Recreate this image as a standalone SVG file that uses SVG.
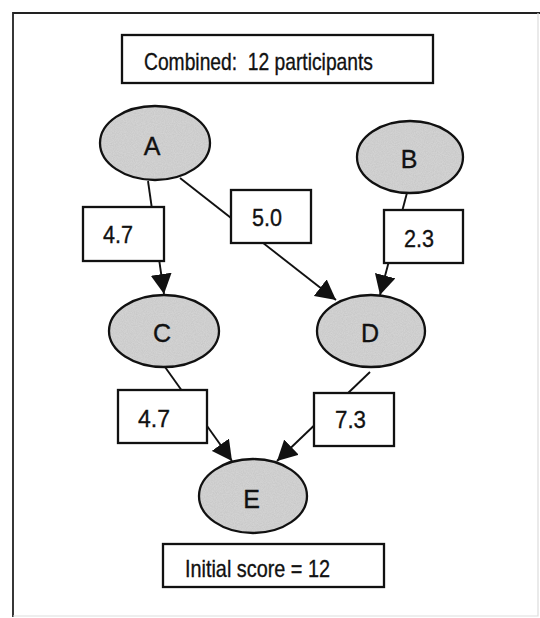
<svg xmlns="http://www.w3.org/2000/svg" width="540" height="618" viewBox="0 0 540 618">
  <style>
    .frame { fill: none; stroke: #222; stroke-width: 1.8; }
    .frame-light { fill: none; stroke: #ddd; stroke-width: 1.2; }
    .box { fill: #fff; stroke: #111; stroke-width: 2.3; }
    .node-fill { fill: #d3d3d3; }
    .node-edge { fill: none; stroke: #111; stroke-width: 2.3; }
    .edge { fill: none; stroke: #111; stroke-width: 1.9; }
    text { font-family: "Liberation Sans", Arial, sans-serif; fill: #111; stroke: #111; stroke-width: 0.35; white-space: pre; }
    .letter { font-size: 25px; text-anchor: middle; }
    .num { font-size: 24px; }
    .caption { font-size: 24px; }
  </style>
  <defs>
    <marker id="arrow" markerUnits="userSpaceOnUse" markerWidth="21" markerHeight="21" refX="20" refY="10.5" orient="auto">
      <path d="M0,0 L20,10.5 L0,21 Z" fill="#111"/>
    </marker>
    <filter id="grain" x="0" y="0" width="100%" height="100%">
      <feTurbulence type="fractalNoise" baseFrequency="0.9" numOctaves="2" seed="3" result="noise"/>
      <feColorMatrix in="noise" type="matrix" values="0 0 0 0 0.55  0 0 0 0 0.55  0 0 0 0 0.55  0 0 0 1.2 -0.3" result="gray"/>
      <feComposite in="gray" in2="SourceGraphic" operator="in" result="speckle"/>
      <feMerge>
        <feMergeNode in="SourceGraphic"/>
        <feMergeNode in="speckle"/>
      </feMerge>
    </filter>
  </defs>

  <rect width="540" height="618" fill="#fff"/>

  <!-- outer frame -->
  <path class="frame" d="M13,617 L13,13 L540,13"/>
  <path class="frame-light" d="M13,616 L538,616 L538,13"/>

  <!-- connectors (drawn first; weight boxes sit on top) -->
  <g id="connectors">
    <line class="edge" x1="148" y1="181" x2="164" y2="294" marker-end="url(#arrow)"/>
    <line class="edge" x1="180" y1="178" x2="336" y2="300" marker-end="url(#arrow)"/>
    <line class="edge" x1="408" y1="189" x2="380" y2="295" marker-end="url(#arrow)"/>
    <line class="edge" x1="165" y1="367" x2="232" y2="461" marker-end="url(#arrow)"/>
    <line class="edge" x1="370" y1="372" x2="277" y2="461" marker-end="url(#arrow)"/>
  </g>

  <!-- header -->
  <g id="title">
    <rect class="box" x="122" y="35" width="311" height="48"/>
    <text class="caption" x="144" y="70" textLength="229" lengthAdjust="spacingAndGlyphs" xml:space="preserve">Combined:  12 participants</text>
  </g>

  <!-- nodes -->
  <g id="node-A">
    <ellipse class="node-fill" cx="155" cy="143" rx="55" ry="37" filter="url(#grain)"/>
    <ellipse class="node-edge" cx="155" cy="143" rx="55" ry="37"/>
    <text class="letter" x="152" y="155">A</text>
  </g>
  <g id="node-B">
    <ellipse class="node-fill" cx="410" cy="157" rx="53" ry="36" filter="url(#grain)"/>
    <ellipse class="node-edge" cx="410" cy="157" rx="53" ry="36"/>
    <text class="letter" x="409" y="168">B</text>
  </g>
  <g id="node-C">
    <ellipse class="node-fill" cx="164" cy="331" rx="55" ry="36" filter="url(#grain)"/>
    <ellipse class="node-edge" cx="164" cy="331" rx="55" ry="36"/>
    <text class="letter" x="162" y="342">C</text>
  </g>
  <g id="node-D">
    <ellipse class="node-fill" cx="371" cy="331" rx="54" ry="36" filter="url(#grain)"/>
    <ellipse class="node-edge" cx="371" cy="331" rx="54" ry="36"/>
    <text class="letter" x="370" y="342">D</text>
  </g>
  <g id="node-E">
    <ellipse class="node-fill" cx="253" cy="496" rx="54" ry="37" filter="url(#grain)"/>
    <ellipse class="node-edge" cx="253" cy="496" rx="54" ry="37"/>
    <text class="letter" x="251.5" y="508">E</text>
  </g>

  <!-- edge weights -->
  <g id="weight-AC">
    <rect class="box" x="83" y="207" width="81" height="54"/>
    <text class="num" x="103" y="243" textLength="30" lengthAdjust="spacingAndGlyphs">4.7</text>
  </g>
  <g id="weight-AD">
    <rect class="box" x="231" y="190" width="80" height="53"/>
    <text class="num" x="252" y="226" textLength="30" lengthAdjust="spacingAndGlyphs">5.0</text>
  </g>
  <g id="weight-BD">
    <rect class="box" x="384" y="210" width="79" height="53"/>
    <text class="num" x="404" y="247" textLength="30" lengthAdjust="spacingAndGlyphs">2.3</text>
  </g>
  <g id="weight-CE">
    <rect class="box" x="118" y="390" width="89" height="53"/>
    <text class="num" x="138" y="427" textLength="32" lengthAdjust="spacingAndGlyphs">4.7</text>
  </g>
  <g id="weight-DE">
    <rect class="box" x="314" y="393" width="80" height="53"/>
    <text class="num" x="335" y="428" textLength="31" lengthAdjust="spacingAndGlyphs">7.3</text>
  </g>

  <!-- footer -->
  <g id="initial-score">
    <rect class="box" x="163" y="544" width="221" height="43"/>
    <text class="caption" x="185" y="577" textLength="145" lengthAdjust="spacingAndGlyphs">Initial score = 12</text>
  </g>
</svg>
